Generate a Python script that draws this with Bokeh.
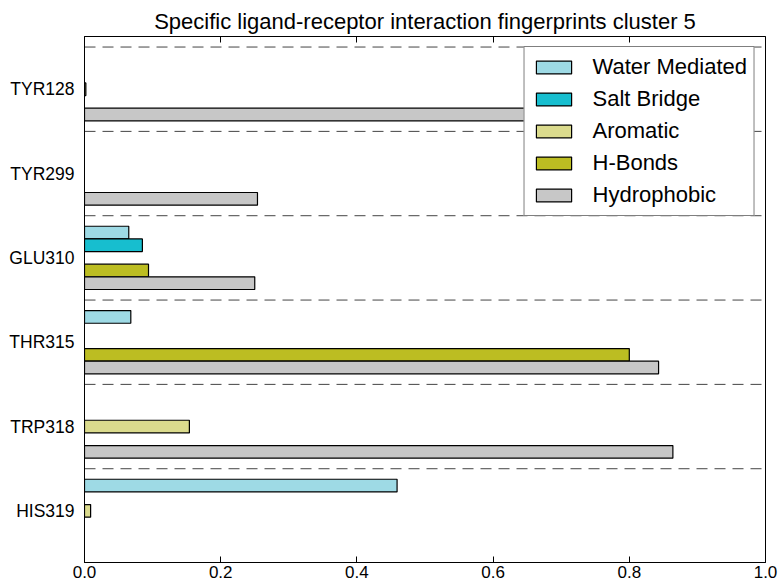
from bokeh.plotting import figure
from bokeh.models import (Range1d, FixedTicker, PrintfTickFormatter, LinearAxis,
                          Span, ColumnDataSource)
from bokeh.embed import file_html
from bokeh.resources import INLINE

# ---------------- data ----------------
residues = ["TYR128", "TYR299", "GLU310", "THR315", "TRP318", "HIS319"]
water_mediated = [0.0, 0.0, 0.065, 0.068, 0.0, 0.459]
salt_bridge = [0.0, 0.0, 0.085, 0.0, 0.0, 0.0]
aromatic = [0.002, 0.0, 0.0, 0.0, 0.154, 0.009]
h_bonds = [0.0, 0.0, 0.094, 0.800, 0.0, 0.0]
hydrophobic = [0.880, 0.254, 0.250, 0.843, 0.864, 0.0]
x_ticks = [0.0, 0.2, 0.4, 0.6, 0.8, 1.0]

series = [
    ("Water Mediated", water_mediated, "#9edae5", 4),
    ("Salt Bridge", salt_bridge, "#17becf", 3),
    ("Aromatic", aromatic, "#dbdb8d", 2),
    ("H-Bonds", h_bonds, "#bcbd22", 1),
    ("Hydrophobic", hydrophobic, "#c7c7c7", 0),
]
BAR_W = 0.15
n = len(residues)
base = [n - 1 - i for i in range(n)]

FONT = "Liberation Sans"

p = figure(width=778, height=588, output_backend="svg", toolbar_location=None,
           x_range=Range1d(0, 1), y_range=Range1d(-0.237, 6.0),
           title="Specific ligand-receptor interaction fingerprints cluster 5",
           min_border_left=84, min_border_right=13, min_border_top=36,
           min_border_bottom=26)

p.title.align = "center"
p.title.text_font = FONT
p.title.text_font_size = "22px"
p.title.text_font_style = "normal"
p.title.text_color = "black"
p.title.standoff = 6

p.xgrid.visible = False
p.ygrid.visible = False
p.outline_line_color = "black"
p.outline_line_width = 1
p.background_fill_color = "white"
p.border_fill_color = "white"

# separators between residue groups
for b in base:
    p.add_layout(Span(location=b + 0.875, dimension="width", line_color="#444444",
                      line_width=1, line_dash="11 7", level="underlay"))

for name, vals, color, slot in series:
    ys = [b + slot * BAR_W + BAR_W / 2 for b, v in zip(base, vals) if v > 0]
    xs = [v for v in vals if v > 0]
    src = ColumnDataSource(dict(y=ys, right=xs))
    p.hbar(y="y", left=0, right="right", height=BAR_W, source=src,
           fill_color=color, line_color="black", line_width=1.2,
           legend_label=name)

# x axis
xa = p.xaxis[0]
xa.ticker = FixedTicker(ticks=x_ticks)
xa.formatter = PrintfTickFormatter(format="%.1f")
xa.major_tick_in = 6
xa.major_tick_out = 0
xa.minor_tick_line_color = None
xa.major_label_text_font = FONT
xa.major_label_text_font_size = "17px"
xa.major_label_text_color = "black"
xa.major_label_standoff = 3
xa.axis_line_color = "black"

top = LinearAxis(ticker=FixedTicker(ticks=x_ticks), major_tick_in=6, major_tick_out=0,
                 minor_tick_line_color=None, major_label_text_font_size="0px",
                 major_label_text_color=None, major_label_standoff=0,
                 axis_line_color=None)
p.add_layout(top, "above")

# y axis
ya = p.yaxis[0]
ya.ticker = FixedTicker(ticks=[b + 0.375 for b in base])
ya.major_label_overrides = {b + 0.375: r for b, r in zip(base, residues)}
ya.major_tick_line_color = None
ya.minor_tick_line_color = None
ya.major_label_text_font = FONT
ya.major_label_text_font_size = "17.5px"
ya.major_label_text_color = "black"
ya.major_label_standoff = 4
ya.axis_line_color = "black"

lg = p.legend[0]
lg.location = "top_right"
lg.margin = 10
lg.padding = 7
lg.spacing = 6
lg.glyph_width = 44
lg.glyph_height = 16
lg.label_height = 24
lg.label_standoff = 17
lg.label_text_font = FONT
lg.label_text_font_size = "22px"
lg.label_text_color = "black"
lg.border_line_color = "black"
lg.border_line_width = 1
lg.background_fill_color = "white"
lg.background_fill_alpha = 1.0

open("out.html", "w").write(file_html(p, INLINE))
